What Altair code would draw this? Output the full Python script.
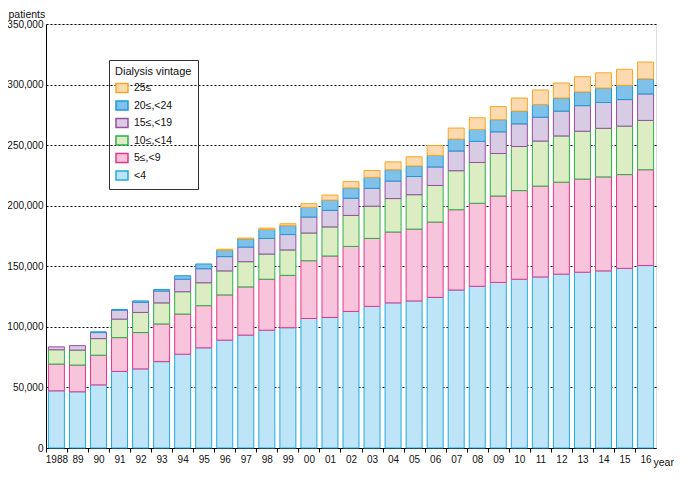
import altair as alt
import pandas as pd

years = ["1988", "89", "90", "91", "92", "93", "94", "95", "96", "97", "98", "99",
         "00", "01", "02", "03", "04", "05", "06", "07", "08", "09", "10", "11",
         "12", "13", "14", "15", "16"]

lt4 = [47200, 46400, 52100, 63200, 65300, 71300, 77400, 82700, 89000, 93200,
       97200, 99300, 106900, 107700, 112700, 116900, 119800, 121400, 124300,
       130400, 133500, 136700, 139300, 141200, 143500, 145100, 146200, 148300, 150600]
v5_9 = [22100, 22100, 24500, 27900, 30000, 31100, 33200, 34800, 37400, 39800,
        42100, 43200, 47700, 50800, 53700, 56100, 58500, 59300, 62200,
        66300, 68500, 71300, 73200, 75000, 75900, 76900, 77600, 77400, 79100]
v10_14 = [11800, 12300, 13700, 15300, 16600, 17400, 18400, 18900, 19800, 20800,
          20800, 21000, 22900, 24000, 25600, 26600, 27600, 28400, 30200,
          32200, 33700, 35100, 36400, 37200, 38200, 39500, 40100, 40000, 40700]
v15_19 = [2400, 3700, 5000, 7400, 8400, 9800, 10300, 11600, 11800, 12100,
          12900, 12700, 13200, 13700, 14200, 14800, 14500, 15000, 15300,
          16300, 17400, 17900, 18700, 19700, 20500, 21100, 21300, 21900, 21900]
v20_24 = [0, 0, 600, 500, 1100, 1300, 2900, 3900, 5300, 6600,
          7400, 7300, 7900, 8400, 8500, 9000, 9300, 8700, 9500,
          9800, 9800, 10000, 10500, 10500, 10800, 11300, 11900, 11800, 12400]
v25 = [0, 0, 0, 0, 0, 0, 0, 0, 800, 800,
       1100, 1600, 3100, 4200, 5200, 5700, 6500, 7600, 8200,
       9100, 9700, 10800, 10800, 11900, 12400, 12600, 12600, 13200, 13900]

groups = ["<4", "5≤,<9", "10≤,<14", "15≤,<19", "20≤,<24", "25≤"]
series = [lt4, v5_9, v10_14, v15_19, v20_24, v25]
fills = ["#bde4f7", "#f7c4db", "#dcecc3", "#d8cbe4", "#80c1ea", "#fdd9b0"]
strokes = ["#22aae2", "#e8358b", "#2cb04a", "#9a4f9f", "#1e9bd8", "#f6a724"]
y_ticks = [0, 50000, 100000, 150000, 200000, 250000, 300000, 350000]

rows = []
for i, yr in enumerate(years):
    for k, (g, vals) in enumerate(zip(groups, series)):
        if vals[i] > 0:
            rows.append({"year": yr, "group": g, "order": k, "patients": vals[i]})
df = pd.DataFrame(rows)

legend_order = groups[::-1]
W, H = 610, 424
step = W / (len(years) - 0.24 + 2 * 0.115)

legend = alt.Legend(
    title="Dialysis vintage", orient="none", legendX=63, legendY=36,
    titleFontWeight="normal", titleFontSize=11, titleColor="#111",
    titlePadding=4, labelFontSize=10.5, labelColor="#111",
    symbolType="M-1,-0.75H1V0.75H-1Z", symbolSize=144, symbolStrokeWidth=1.5,
    rowPadding=1.5, padding=6, strokeColor="#333", labelOffset=5,
)

chart = alt.Chart(df).mark_bar(strokeWidth=1, fillOpacity=1).encode(
    x=alt.X("year:N", sort=years,
            scale=alt.Scale(paddingInner=0.24, paddingOuter=0.115),
            axis=alt.Axis(title="year", labelAngle=0, tickSize=4, tickColor="#000",
                          domainColor="#000", labelFontSize=10, labelColor="#111",
                          labelPadding=2, tickOffset=-step / 2, labelOffset=step / 2,
                          titleX=W - 3, titleY=17, titleAlign="left",
                          titleBaseline="alphabetic", titleFontWeight="normal",
                          titleFontSize=10.5, titleColor="#111")),
    y=alt.Y("patients:Q", stack="zero",
            scale=alt.Scale(domain=[0, 350000], nice=False),
            axis=alt.Axis(title="patients", values=y_ticks, format=",d",
                          ticks=False, labelPadding=3, labelFontSize=10,
                          labelColor="#111", domainColor="#000",
                          gridDash=[2, 2], gridColor="#000", gridWidth=1,
                          titleAngle=0, titleAlign="left", titleBaseline="alphabetic",
                          titleX=-38, titleY=-7, titleFontWeight="normal",
                          titleFontSize=10.5, titleColor="#111")),
    fill=alt.Fill("group:N", scale=alt.Scale(domain=legend_order, range=fills[::-1]),
                  legend=legend),
    stroke=alt.Stroke("group:N", scale=alt.Scale(domain=legend_order, range=strokes[::-1]),
                      legend=legend),
    order=alt.Order("order:Q", sort="ascending"),
).properties(
    width=W, height=H,
    autosize=alt.AutoSizeParams(type="none"),
    padding={"left": 38, "top": 16, "right": 21, "bottom": 20},
).configure_view(
    fill="#fef5e9", stroke="#000", strokeWidth=1
).configure(
    font="Liberation Sans", background="#ffffff"
)

chart.save("out.html", embed_options={"renderer": "svg", "actions": False})
